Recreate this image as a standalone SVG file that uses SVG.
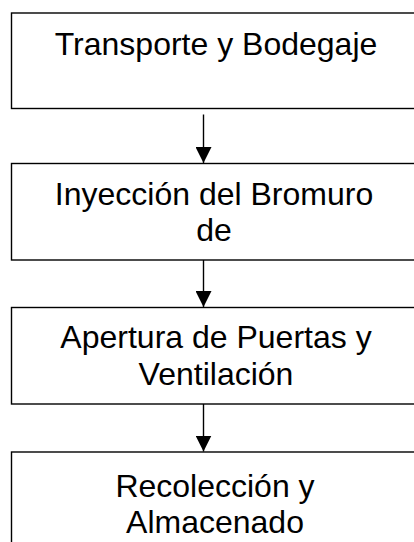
<svg xmlns="http://www.w3.org/2000/svg" width="414" height="542" viewBox="0 0 414 542">
<style>
.box{fill:#fff;stroke:#000;stroke-width:1.4}
.t{font-family:"Liberation Sans",Arial,sans-serif;font-size:32px;fill:#000;text-anchor:middle}
.c{stroke:#000;stroke-width:1.4;fill:none}
</style>
<defs>
<marker id="ah" markerUnits="userSpaceOnUse" markerWidth="16" markerHeight="16" viewBox="0 0 16 16" refX="16" refY="8" orient="auto">
<path d="M0,0 L16,8 L0,16 Z" fill="#000"/>
</marker>
</defs>
<rect width="414" height="542" fill="#fff"/>
<g id="n1"><rect class="box" x="11.5" y="13" width="410" height="95.5"/><text class="t" x="216" y="55">Transporte y Bodegaje</text></g>
<g id="n2"><rect class="box" x="11.5" y="163.5" width="410" height="96.5"/><text class="t" x="214" y="205">Inyección del Bromuro</text><text class="t" x="214" y="241">de</text></g>
<g id="n3"><rect class="box" x="11.5" y="307.5" width="410" height="96.5"/><text class="t" x="216" y="348">Apertura de Puertas y</text><text class="t" x="216" y="385">Ventilación</text></g>
<g id="n4"><rect class="box" x="11.5" y="452" width="410" height="120"/><text class="t" x="215" y="497">Recolección y</text><text class="t" x="215" y="533">Almacenado</text></g>
<g id="connectors">
<line class="c" x1="203.5" y1="114.5" x2="203.5" y2="163" marker-end="url(#ah)"/>
<line class="c" x1="203.5" y1="260" x2="203.5" y2="307" marker-end="url(#ah)"/>
<line class="c" x1="203.5" y1="404" x2="203.5" y2="451.5" marker-end="url(#ah)"/>
</g>
</svg>
